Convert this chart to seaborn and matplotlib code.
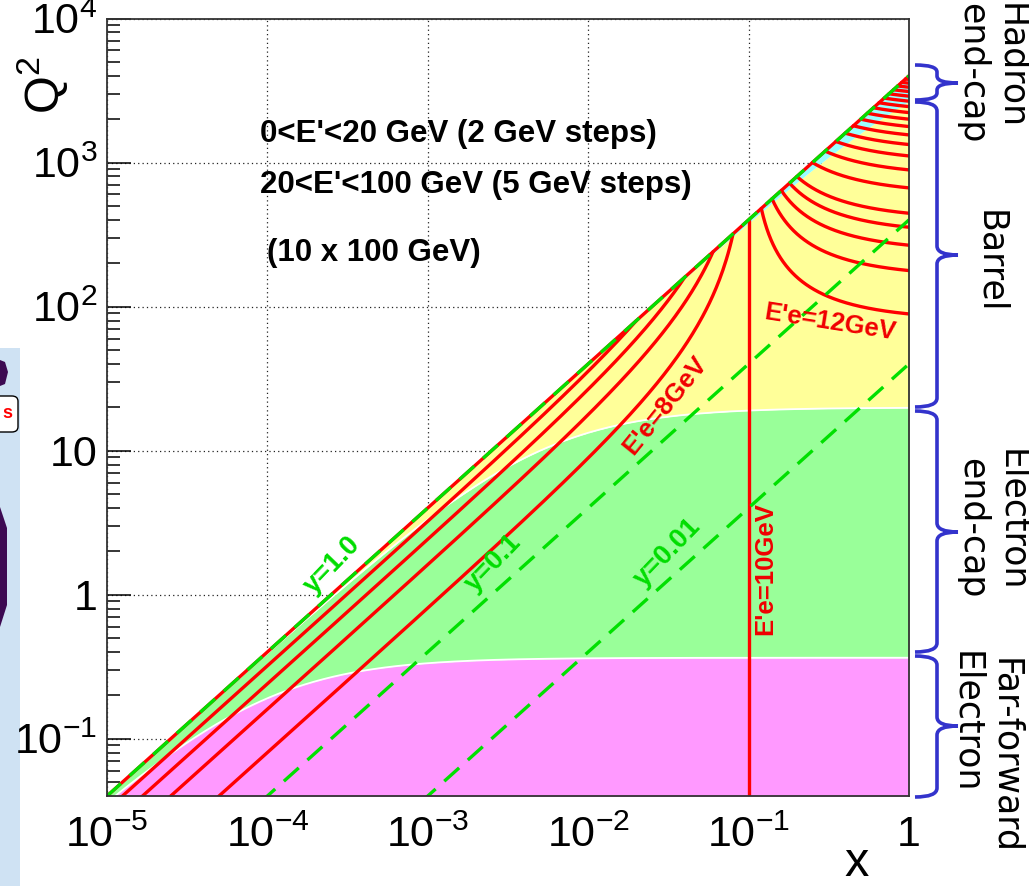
import numpy as np
import pandas as pd
import matplotlib
matplotlib.use("Agg")
import matplotlib.pyplot as plt
import seaborn as sns
from matplotlib.path import Path
from matplotlib.patches import PathPatch, Rectangle, Polygon, FancyBboxPatch
from matplotlib.ticker import FixedLocator, FixedFormatter, NullFormatter

# ---------------- data ----------------
E_BEAM_E = 10.0      # electron beam energy [GeV]
E_BEAM_P = 100.0     # proton beam energy [GeV]
E_PRIME_LOW = [2, 4, 6, 8]
E_PRIME_VERT = 10
E_PRIME_HIGH = [12, 14, 16, 18, 20, 25, 30, 35, 40, 45, 50, 55, 60, 65, 70, 75, 80, 85, 90, 95]
Y_VALUES = [1.0, 0.1, 0.01]
Y_LABELS = ["y=1.0", "y=0.1", "y=0.01"]
ETA_BOUNDS = [-3.5, -1.5, 1.5]
REGION_COLORS = ["#FF99FF", "#99FF99", "#FFFF99", "#99FFFF"]
X_TICKS = [1e-5, 1e-4, 1e-3, 1e-2, 1e-1, 1.0]
X_TICK_LABELS = [r"$10^{-5}$", r"$10^{-4}$", r"$10^{-3}$", r"$10^{-2}$", r"$10^{-1}$", "1"]
Y_TICKS = [1e-1, 1.0, 1e1, 1e2, 1e3, 1e4]
Y_TICK_LABELS = [r"$10^{-1}$", "1", "10", r"$10^{2}$", r"$10^{3}$", r"$10^{4}$"]
X_RANGE = (1e-5, 1.0)
Q2_RANGE = (0.04, 1e4)
HEADER_LINES = ["0<E'<20 GeV (2 GeV steps)", "20<E'<100 GeV (5 GeV steps)", "(10 x 100 GeV)"]

# ---------------- kinematics ----------------
S = 4 * E_BEAM_E * E_BEAM_P
R = E_BEAM_P / E_BEAM_E


def q2_y(x, y):
    return S * x * y


def q2_eprime(x, ep):
    return S * x * (1 - ep / E_BEAM_E) / (1 - x * R)


def q2_eta(x, eta):
    t = np.exp(-2 * eta)
    return S * x / (1 + x * R * t)


# ---------------- style ----------------
sns.set_theme(style="white")
plt.rcParams["font.family"] = ["Liberation Sans", "DejaVu Sans"]
plt.rcParams["mathtext.fontset"] = "custom"
plt.rcParams["mathtext.rm"] = "Liberation Sans"
plt.rcParams["mathtext.it"] = "Liberation Sans:italic"
plt.rcParams["mathtext.bf"] = "Liberation Sans:bold"
for k in ["text.color", "axes.labelcolor", "xtick.color", "ytick.color"]:
    plt.rcParams[k] = "black"

W, H = 1029, 886
fig = plt.figure(figsize=(W / 100, H / 100), dpi=100)
fig.patch.set_facecolor("white")
ax = fig.add_axes([107 / W, 1 - 796 / H, (909 - 107) / W, (796 - 18.5) / H])
ax.set_xscale("log")
ax.set_yscale("log")
ax.set_xlim(*X_RANGE)
ax.set_ylim(*Q2_RANGE)
ax.set_facecolor("white")

# ---------------- regions ----------------
xg = np.logspace(-5.2, 0, 3000)
bounds = [np.full_like(xg, 1e-3)] + [q2_eta(xg, e) for e in ETA_BOUNDS] + [q2_y(xg, 1.0)]
for i, col in enumerate(REGION_COLORS):
    ax.fill_between(xg, bounds[i], bounds[i + 1], color=col, lw=0, zorder=1)
for e in ETA_BOUNDS[:2]:
    ax.plot(xg, q2_eta(xg, e), color="white", lw=1.3, zorder=1.2)

# ---------------- constant E' curves ----------------
rows = []
for ep in E_PRIME_LOW:
    xs = np.logspace(-5.3, np.log10(ep / E_BEAM_P), 400)
    rows.append(pd.DataFrame({"x": xs, "Q2": q2_eprime(xs, ep), "curve": f"E{ep}"}))
xs = np.array([E_BEAM_E / E_BEAM_P] * 2)
rows.append(pd.DataFrame({"x": xs, "Q2": [1e-3, q2_y(xs[0], 1.0)], "curve": f"E{E_PRIME_VERT}"}))
for ep in E_PRIME_HIGH:
    xs = np.logspace(np.log10(ep / E_BEAM_P), 0, 400)
    rows.append(pd.DataFrame({"x": xs, "Q2": q2_eprime(xs, ep), "curve": f"E{ep}"}))
xs = np.logspace(-5.3, 0, 200)
rows.append(pd.DataFrame({"x": xs, "Q2": q2_y(xs, 1.0), "curve": "limit"}))
df_red = pd.concat(rows, ignore_index=True)
sns.lineplot(data=df_red, x="x", y="Q2", units="curve", estimator=None, sort=False,
             color="#FF0000", lw=2.4, ax=ax, legend=False, zorder=3)

# ---------------- constant y lines ----------------
for yv in Y_VALUES:
    xs = np.logspace(-5.3, 0, 300)
    d = pd.DataFrame({"x": xs, "Q2": q2_y(xs, yv)})
    sns.lineplot(data=d, x="x", y="Q2", estimator=None, sort=False, color="#00E000",
                 lw=2.4, linestyle=(0, (6, 3.5)), ax=ax, legend=False, zorder=4)

ax.set_xlim(*X_RANGE)
ax.set_ylim(*Q2_RANGE)

# ---------------- axes cosmetics ----------------
ax.set_axisbelow(True)
ax.grid(which="major", color="#222222", lw=0.9, ls=(0, (1, 2.5)), zorder=0.5)
ax.minorticks_off()
ax.xaxis.set_major_locator(FixedLocator(X_TICKS))
ax.xaxis.set_major_formatter(FixedFormatter(X_TICK_LABELS))
ax.yaxis.set_major_locator(FixedLocator(Y_TICKS))
ax.yaxis.set_major_formatter(FixedFormatter(Y_TICK_LABELS))
minor_y = [m * 10.0 ** k for k in range(-2, 4) for m in range(2, 10)]
ax.yaxis.set_minor_locator(FixedLocator(minor_y))
ax.yaxis.set_minor_formatter(NullFormatter())
ax.tick_params(axis="x", which="both", length=0, pad=14, labelsize=31, labelcolor="black")
ax.tick_params(axis="y", which="major", direction="in", length=17, width=1.1, pad=7,
               labelsize=31, left=True, right=False, colors="black")
ax.tick_params(axis="y", which="minor", direction="in", length=9, width=1.1,
               left=True, right=False, colors="black")
ax.set_xlabel("")
ax.set_ylabel("")
for sp in ax.spines.values():
    sp.set_visible(True)
    sp.set_color("#333333")
    sp.set_linewidth(1.3)
    sp.set_zorder(6)

# ---------------- texts ----------------
hx = [0.191, 0.191, 0.200]
hy = [0.851, 0.786, 0.699]
for t, xx, yy in zip(HEADER_LINES, hx, hy):
    ax.text(xx, yy, t, transform=ax.transAxes, fontsize=22.5, fontweight="bold",
            color="black", ha="left", va="center", zorder=7)

green_pos = [(2.56e-4, 1.6), (2.55e-3, 1.65), (3.15e-2, 1.95)]
for lab, (xx, yy) in zip(Y_LABELS, green_pos):
    ax.text(xx, yy, lab, color="#00DD00", fontsize=19.5, fontweight="bold",
            rotation=46, ha="center", va="center", rotation_mode="anchor", zorder=7)

ax.text(0.0301, 20.6, "E'e=8GeV", color="#F00000", fontsize=18.5, fontweight="bold",
        rotation=51, ha="center", va="center", rotation_mode="anchor", zorder=7)
ax.text(0.127, 1.52, "E'e=10GeV", color="#F00000", fontsize=18.5, fontweight="bold",
        rotation=90, ha="center", va="center", rotation_mode="anchor", zorder=7)
ax.text(0.322, 78, "E'e=12GeV", color="#F00000", fontsize=18.5, fontweight="bold",
        rotation=-9, ha="center", va="center", rotation_mode="anchor", zorder=7)

fig.text(42 / W, 1 - 85 / H, r"Q$^{2}$", fontsize=35, rotation=90, ha="center", va="center")
fig.text(857 / W, 1 - 863 / H, "x", fontsize=35, ha="center", va="center")

# ---------------- braces on the right ----------------
def px(xp, yp):
    return (xp / W, 1 - yp / H)


def brace(y0, y1, yt, xh=915, xv=937, xt=958):
    r = min(9, (y1 - y0) / 5)
    verts = [px(xh, y0), px(xv, y0), px(xv, y0 + r),
             px(xv, yt - r), px(xv, yt), px(xt, yt),
             px(xt, yt), px(xv, yt), px(xv, yt + r),
             px(xv, y1 - r), px(xv, y1), px(xh, y1)]
    codes = [Path.MOVETO, Path.CURVE3, Path.CURVE3,
             Path.LINETO, Path.CURVE3, Path.CURVE3,
             Path.MOVETO, Path.CURVE3, Path.CURVE3,
             Path.LINETO, Path.CURVE3, Path.CURVE3]
    fig.add_artist(PathPatch(Path(verts, codes), fill=False, edgecolor="#3333CC",
                             lw=2.6, transform=fig.transFigure))


brace(65, 100, 83)
brace(102, 407, 255)
brace(411, 652, 532)
brace(656, 797, 726)

lab_font = dict(fontsize=25, rotation=270, color="black", family=["DejaVu Sans"])
fig.text(1011 / W, 1 - 3 / H, "Hadron", ha="center", va="top", **lab_font)
fig.text(972 / W, 1 - 3 / H, "end-cap", ha="center", va="top", **lab_font)
fig.text(990 / W, 1 - 262 / H, "Barrel", ha="center", va="center", **lab_font)
fig.text(1012 / W, 1 - 520 / H, "Electron", ha="center", va="center", **lab_font)
fig.text(972 / W, 1 - 528 / H, "end-cap", ha="center", va="center", **lab_font)
fig.text(1005 / W, 1 - 756 / H, "Far-forward", ha="center", va="center", **lab_font)
fig.text(966 / W, 1 - 722 / H, "Electron", ha="center", va="center", **lab_font)

# ---------------- partial neighbouring panel on the left ----------------
fig.add_artist(Rectangle(px(0, 886), 20 / W, (886 - 348) / H, transform=fig.transFigure,
                         color="#CFE2F3", lw=0, zorder=0))
fig.add_artist(Polygon([px(0, 360), px(5, 362), px(8, 372), px(5, 384), px(0, 386)],
                       closed=True, transform=fig.transFigure, color="#3D0A52", lw=0))
fig.add_artist(Polygon([px(0, 507), px(7, 528), px(7, 605), px(0, 627)],
                       closed=True, transform=fig.transFigure, color="#3D0A52", lw=0))
fig.add_artist(FancyBboxPatch(px(-12, 432), 30 / W, 36 / H, transform=fig.transFigure,
                              boxstyle="round,pad=0,rounding_size=0.006",
                              facecolor="white", edgecolor="black", lw=1))
fig.text(7 / W, 1 - 414 / H, "s", color="red", fontsize=13, fontweight="bold",
         ha="center", va="center")

fig.savefig("out.png", dpi=100)
